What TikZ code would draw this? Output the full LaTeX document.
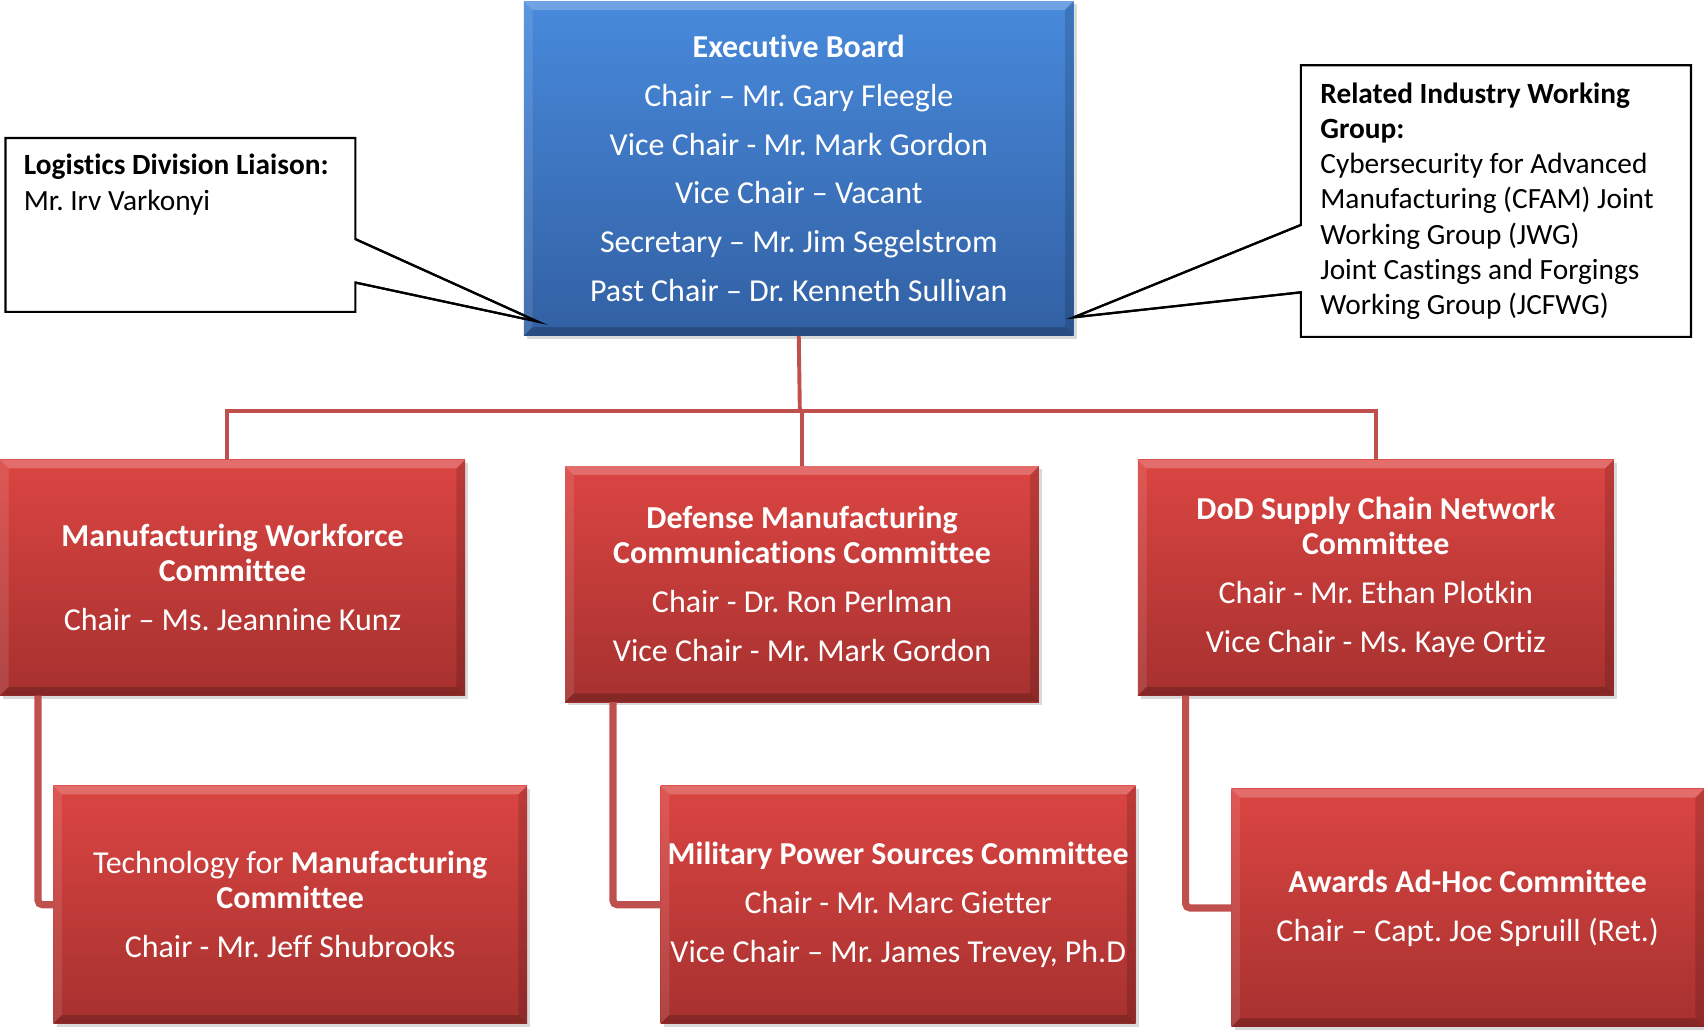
\documentclass[tikz,border=0pt]{standalone}
\usepackage{fontspec}
\setmainfont{Carlito}[Ligatures={TeX,NoCommon}]
\usetikzlibrary{shadows,calc}
\pgfdeclarelayer{background}
\pgfsetlayers{background,main}
\definecolor{bluetop}{RGB}{72,138,220}
\definecolor{bluebot}{RGB}{50,96,163}
\definecolor{redtop}{RGB}{219,69,66}
\definecolor{redbot}{RGB}{166,49,47}
\definecolor{connred}{RGB}{192,80,77}
\frenchspacing
\begin{document}
\begin{tikzpicture}[x=0.5pt,y=-0.5pt,
  bevel/.style={path picture={
    \fill[white,opacity=0.22] (path picture bounding box.north west) -- (path picture bounding box.north east)
      -- ([shift={(-4pt,-4pt)}]path picture bounding box.north east) -- ([shift={(4pt,-4pt)}]path picture bounding box.north west) -- cycle;
    \fill[white,opacity=0.10] (path picture bounding box.north west) -- (path picture bounding box.south west)
      -- ([shift={(4pt,4pt)}]path picture bounding box.south west) -- ([shift={(4pt,-4pt)}]path picture bounding box.north west) -- cycle;
    \fill[black,opacity=0.20] (path picture bounding box.south west) -- (path picture bounding box.south east)
      -- ([shift={(-4pt,4pt)}]path picture bounding box.south east) -- ([shift={(4pt,4pt)}]path picture bounding box.south west) -- cycle;
    \fill[black,opacity=0.14] (path picture bounding box.north east) -- (path picture bounding box.south east)
      -- ([shift={(-4pt,4pt)}]path picture bounding box.south east) -- ([shift={(-4pt,-4pt)}]path picture bounding box.north east) -- cycle;
  }},
  box/.style={rectangle, inner sep=0pt, outer sep=0pt, align=center, text=white,
    font=\fontsize{14.7}{16.2}\selectfont,
    drop shadow={shadow xshift=1.5pt,shadow yshift=-1.5pt,opacity=0.3}, bevel},
  bluebox/.style={box, top color=bluetop, bottom color=bluebot},
  redbox/.style={box, top color=redtop, bottom color=redbot},
  conn/.style={draw=connred, line width=1.8pt},
  childconn/.style={draw=connred, line width=3.3pt, rounded corners=2pt},
  callline/.style={draw=black, line width=1pt},
  calltext/.style={inner sep=0pt, outer sep=0pt, align=left, font=\fontsize{13.5}{16.2}\selectfont}
]
\useasboundingbox (0,0) rectangle (1568,947);

% executive board
\node[bluebox, minimum width=253pt, minimum height=154pt] (exec) at (735,155)
  {\textbf{Executive Board}\\[6.3pt]
   Chair – Mr. Gary Fleegle\\[6.3pt]
   Vice Chair - Mr. Mark Gordon\\[6.3pt]
   Vice Chair – Vacant\\[6.3pt]
   Secretary – Mr. Jim Segelstrom\\[6.3pt]
   Past Chair – Dr. Kenneth Sullivan};

% committees
\node[redbox, minimum width=214pt, minimum height=108.5pt] (mw) at (214,531.5)
  {\textbf{Manufacturing Workforce}\\\textbf{Committee}\\[6.3pt]
   Chair – Ms. Jeannine Kunz};
\node[redbox, minimum width=218pt, minimum height=108.5pt] (dmc) at (738,537.5)
  {\textbf{Defense Manufacturing}\\\textbf{Communications Committee}\\[6.3pt]
   Chair - Dr. Ron Perlman\\[6.3pt]
   Vice Chair - Mr. Mark Gordon};
\node[redbox, minimum width=219pt, minimum height=108.5pt] (dod) at (1266,531.5)
  {\textbf{DoD Supply Chain Network}\\\textbf{Committee}\\[6.3pt]
   Chair - Mr. Ethan Plotkin\\[6.3pt]
   Vice Chair - Ms. Kaye Ortiz};
\node[redbox, minimum width=218pt, minimum height=109.5pt] (tech) at (267,832.5)
  {Technology for \textbf{Manufacturing}\\\textbf{Committee}\\[6.3pt]
   Chair - Mr. Jeff Shubrooks};
\node[redbox, minimum width=218.5pt, minimum height=109.5pt] (mps) at (826.5,832.5)
  {\textbf{Military Power Sources Committee}\\[6.3pt]
   Chair - Mr. Marc Gietter\\[6.3pt]
   Vice Chair – Mr. James Trevey, Ph.D};
\node[redbox, minimum width=217.5pt, minimum height=109.5pt] (awards) at (1350.5,835.5)
  {\textbf{Awards Ad-Hoc Committee}\\[6.3pt]
   Chair – Capt. Joe Spruill (Ret.)};

% connectors
\coordinate (bus) at (736,378);
\draw[conn] (exec.south) -- (bus);
\draw[conn] ([xshift=-2.5pt]mw.north) |- (bus) -| (dod.north);
\draw[conn] (dmc.north) -- (dmc.north |- bus);
\draw[childconn] ([xshift=17.5pt]mw.south west) |- (tech.west);
\draw[childconn] ([xshift=22pt]dmc.south west) |- (mps.west);
\draw[childconn] ([xshift=22pt]dod.south west) |- (awards.west);

% left callout
\node[inner sep=0pt, outer sep=0pt, anchor=north west, minimum width=161pt, minimum height=80pt] (liaison) at (5,127) {};
\node[calltext, anchor=north west] (liaisontxt) at (22,142)
  {\textbf{Logistics Division Liaison:}\\Mr. Irv Varkonyi};
\coordinate (ltip) at ([xshift=6.5pt,yshift=6.5pt]exec.south west);
\coordinate (la) at ([yshift=-46.5pt]liaison.north east);
\coordinate (lb) at ([yshift=-66.5pt]liaison.north east);

% right callout
\node[calltext, align=flush left, anchor=north west, inner xsep=9pt, text width=161.5pt, minimum height=125pt] (rel) at (1197,60)
  {\textbf{Related Industry Working}\\
   \textbf{Group:}\\
   Cybersecurity for Advanced\\
   Manufacturing (CFAM) Joint\\
   Working Group (JWG)\\
   Joint Castings and Forgings\\
   Working Group (JCFWG)};
\coordinate (rtip) at ([yshift=8.5pt]exec.south east);
\coordinate (ra) at ([yshift=-73.5pt]rel.north west);
\coordinate (rb) at ([yshift=-104.5pt]rel.north west);

\begin{pgfonlayer}{background}
  \filldraw[callline, fill=white] (liaison.north west) -- (liaison.north east) -- (la) -- (ltip) -- (lb)
    -- (liaison.south east) -- (liaison.south west) -- cycle;
  \filldraw[callline, fill=white] (rel.north east) -- (rel.north west) -- (ra) -- (rtip) -- (rb)
    -- (rel.south west) -- (rel.south east) -- cycle;
\end{pgfonlayer}
\draw[callline] (la) -- (ltip) -- (lb);
\draw[callline] (ra) -- (rtip) -- (rb);
\end{tikzpicture}
\end{document}
